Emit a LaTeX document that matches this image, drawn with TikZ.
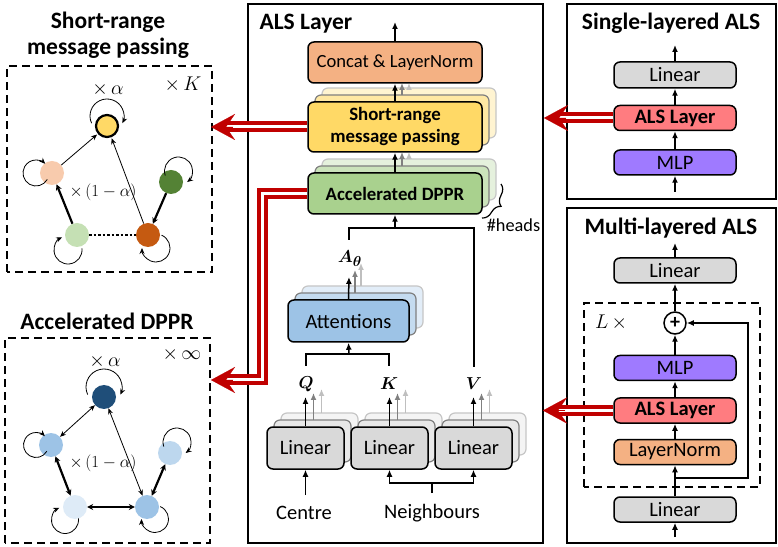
\documentclass[tikz,border=0pt]{standalone}
\usepackage{amsmath}
\usepackage{fontspec}
\setmainfont{Carlito}
\usetikzlibrary{arrows.meta,decorations.pathreplacing,calc}
\definecolor{cconcat}{HTML}{F4B183}
\definecolor{csr}{HTML}{FFD966}
\definecolor{cdppr}{HTML}{A9D18E}
\definecolor{catt}{HTML}{9DC3E6}
\definecolor{clin}{HTML}{D9D9D9}
\definecolor{cals}{HTML}{FF7C80}
\definecolor{cmlp}{HTML}{9F7AFF}
\definecolor{credarr}{HTML}{C00000}
\definecolor{cpeach}{HTML}{F8CBAD}
\definecolor{cdgreen}{HTML}{548235}
\definecolor{clgreen}{HTML}{C5E0B4}
\definecolor{corange}{HTML}{C55A11}
\definecolor{cyel}{HTML}{FFD966}
\definecolor{cdblue}{HTML}{1F4E79}
\definecolor{cblue}{HTML}{9DC3E6}
\definecolor{clblue}{HTML}{BDD7EE}
\definecolor{cvlblue}{HTML}{DEEBF7}
\newcommand\fs[2]{\fontsize{#1}{#2}\selectfont}
\tikzset{
  boxshape/.style={rectangle, rounded corners=6pt, line width=1.5pt, draw=black, inner sep=0pt, align=center},
  flow/.style={line width=1.5pt, -{Latex[length=7pt,width=6pt]}},
  gflowA/.style={flow, draw=gray},
  gflowB/.style={flow, draw=gray!50},
  plainline/.style={line width=1.5pt},
  redline/.style={draw=credarr, line width=4pt, double=white, double distance=3pt, shorten >=14pt},
  redhead/.style={draw=credarr, fill=credarr, line width=0.1pt, -{Stealth[length=24pt,width=26pt,inset=9pt]}},
  dashbox/.style={draw, line width=1.5pt, dash pattern=on 8pt off 5pt},
  panel/.style={draw, line width=1.5pt},
  gn/.style={circle, minimum size=24pt, inner sep=0pt},
  mathlbl/.style={font=\fs{17.28}{18}, scale=1.15},
  thinarr/.style={line width=0.8pt, -{Stealth[length=6pt,width=5pt]}},
  thinboth/.style={line width=0.8pt, {Stealth[length=6pt,width=5pt]}-{Stealth[length=6pt,width=5pt]}},
  thickarr/.style={line width=2.2pt, -{Stealth[length=6pt,width=6pt]}},
  thickboth/.style={line width=2.2pt, {Stealth[length=6pt,width=6pt]}-{Stealth[length=6pt,width=6pt]}},
  loopst/.style={line width=0.8pt, -{Stealth[length=6pt,width=5pt]}},
}
% name, cx, cy, w, h, colour, font, text
\newcommand\shbox[8]{%
  \node[boxshape, fill=#6!30!white, draw=gray!45, line width=1.2pt, minimum width=#4pt, minimum height=#5pt] at (#2+14,#3+14) {};
  \node[boxshape, fill=#6!60!white, draw=gray, line width=1.2pt, minimum width=#4pt, minimum height=#5pt] at (#2+7,#3+7) {};
  \node[boxshape, fill=#6, minimum width=#4pt, minimum height=#5pt, font=#7] (#1) at (#2,#3) {#8};
}
% node, dx, dy, radius, start, end
\newcommand\selfloop[6]{%
  \draw[loopst] ($(#1)+(#2,#3)+(#5:#4)$) arc[start angle=#5, end angle=#6, radius=#4];
}
\begin{document}
\begin{tikzpicture}[x=1pt,y=1pt]
\useasboundingbox (0,0) rectangle (778,546);
\fill[white] (0,0) rectangle (778,546);

% ---------------- left top: short-range message passing
\node[font=\fs{23.5}{26}\bfseries, align=center] (t1) at (108,511) {Short-range\\message passing};
\draw[dashbox] (7,274) rectangle (212,480);
\node[mathlbl] (ga) at (108,456) {$\times\,\alpha$};
\node[mathlbl] (gk) at (183,461) {$\times\,K$};
\node[mathlbl, scale=0.85] (g1a) at (103,354) {$\times\,(1-\alpha)$};
\node[gn, fill=cyel, draw=black, line width=2.2pt, minimum size=22pt] (g1) at (107,420) {};
\node[gn, fill=cpeach] (g2) at (52,373) {};
\node[gn, fill=cdgreen] (g3) at (171,364) {};
\node[gn, fill=clgreen] (g4) at (77,311) {};
\node[gn, fill=corange] (g5) at (148,311) {};
\draw[thinarr, shorten >=1pt] (g2) -- (g1);
\draw[thinarr, shorten >=1pt] (g5) -- (g1);
\draw[thickarr] (g4) -- (g2);
\draw[thickarr] (g3) -- (g5);
\draw[line width=2.5pt, dash pattern=on 2.5pt off 2pt] (g4) -- (g5);
\selfloop{g1}{0}{10}{17}{205}{-25}
\selfloop{g2}{-16}{0}{13}{-30}{-315}
\selfloop{g3}{7.5}{11}{14}{199}{-52}
\selfloop{g4}{-9}{-15}{14}{7}{-245}
\selfloop{g5}{8}{-13}{14}{67}{-180}

% ---------------- left bottom: accelerated DPPR
\node[font=\fs{23.5}{26}\bfseries] (t2) at (107,225) {Accelerated DPPR};
\draw[dashbox] (5,3) rectangle (210,208);
\node[mathlbl] (da) at (105,184) {$\times\,\alpha$};
\node[mathlbl] (dinf) at (182,191) {$\times\,\infty$};
\node[mathlbl, scale=0.85] (d1a) at (103,83) {$\times\,(1-\alpha)$};
\node[gn, fill=cdblue] (d1) at (104,149) {};
\node[gn, fill=cblue] (d2) at (51,101) {};
\node[gn, fill=clblue] (d3) at (170,93) {};
\node[gn, fill=cvlblue] (d4) at (75,39) {};
\node[gn, fill=cblue] (d5) at (147,39) {};
\draw[thinboth] (d1) -- (d2);
\draw[thinboth] (d1) -- (d5);
\draw[thickboth] (d2) -- (d4);
\draw[thickboth] (d4) -- (d5);
\draw[thickboth] (d3) -- (d5);
\selfloop{d1}{0}{10}{18}{205}{-25}
\selfloop{d2}{-15}{0}{12.5}{-30}{-315}
\selfloop{d3}{7}{11}{14}{199}{-52}
\selfloop{d4}{-10}{-13}{13.5}{7}{-245}
\selfloop{d5}{8}{-12}{13.5}{67}{-180}

% ---------------- middle: ALS layer
\draw[panel] (248,3) rectangle (543,542);
\node[font=\fs{23.5}{26}\bfseries, anchor=west] (t3) at (256,522) {ALS Layer};
\node[boxshape, fill=cconcat, minimum width=174pt, minimum height=41pt, font=\fs{18.6}{20}] (concat) at (395,483.5) {Concat \& LayerNorm};
\shbox{sr}{395}{419}{174}{50}{csr}{\fs{18.8}{22}\bfseries}{Short-range\\message passing}
\shbox{dppr}{395}{352.5}{174}{41}{cdppr}{\fs{18.8}{20}\bfseries}{Accelerated DPPR}
\shbox{att}{348.5}{225}{121}{42}{catt}{\fs{20.5}{22}}{Attentions}
\shbox{lq}{305.5}{98}{77}{42}{clin}{\fs{20.5}{22}}{Linear}
\shbox{lk}{389.5}{98}{77}{42}{clin}{\fs{20.5}{22}}{Linear}
\shbox{lv}{473.5}{98}{77}{42}{clin}{\fs{20.5}{22}}{Linear}

\coordinate (outtop) at (395,524);
\draw[flow] (concat.north) -- (outtop);
% sr -> concat
\draw[gflowB] (409,458) -- (409,463);
\draw[gflowA] (402,451) -- (402,463);
\draw[flow] (sr.north) -- (concat.south);
% dppr -> sr
\draw[gflowB] (409,387) -- (409,394);
\draw[gflowA] (402,380) -- (402,394);
\draw[flow] (dppr.north) -- (sr.south);
% brace
\draw[line width=1.2pt, decorate, decoration={brace, amplitude=11pt}] (501,362) -- (482,328);
\node[font=\fs{18.3}{20}] (heads) at (513.5,321) {\#heads};

% A theta and V merge
\node[font=\fs{19}{20}] (ath) at (350,287) {$\boldsymbol{A}_{\boldsymbol{\theta}}$};
\node[font=\fs{19}{20}] (qq) at (306,162) {$\boldsymbol{Q}$};
\node[font=\fs{19}{20}] (kk) at (389,162) {$\boldsymbol{K}$};
\node[font=\fs{19}{20}] (vv) at (474,162) {$\boldsymbol{V}$};
\coordinate (mergeL) at (349,318);
\coordinate (mergeR) at (474,318);
\coordinate (mergeC) at (395,318);
\draw[plainline] (349,306) -- (mergeL) -- (mergeR) -- (474,179);
\draw[flow] (mergeC) -- (dppr.south);
% attention -> A theta
\draw[gflowB] (361,260) -- (361,283);
\draw[gflowA] (355,253) -- (355,276);
\draw[flow] (att.north) -- (349,269);
% Q,K -> attention
\draw[plainline] (306,180) -- (306,192) -- (389,192) -- (389,180);
\draw[flow] (349,192) -- (att.south);
% linear -> Q K V
\foreach \cx/\nm in {305.5/lq, 389.5/lk, 473.5/lv}{
  \draw[gflowB] (\cx+16,133) -- (\cx+16,157);
  \draw[gflowA] (\cx+8,126) -- (\cx+8,153);
  \draw[flow] (\nm.north) -- (\cx,149);
}
% inputs
\node[font=\fs{20.5}{22}] (centre) at (304,33) {Centre};
\node[font=\fs{20.5}{22}] (neigh) at (432,33) {Neighbours};
\draw[flow] (305.5,51) -- (lq.south);
\draw[plainline] (432,53) -- (432,63);
\draw[flow] (389.5,63) -- (lk.south);
\draw[flow] (473.5,63) -- (lv.south);
\draw[plainline] (388.75,63) -- (474.25,63);

% ---------------- right top: single-layered ALS
\draw[panel] (567,347) rectangle (776,542);
\node[font=\fs{23.5}{26}\bfseries] (t4) at (671,523) {Single-layered ALS};
\node[boxshape, fill=clin, minimum width=122pt, minimum height=26pt, font=\fs{20.5}{22}] (slin) at (675,471) {Linear};
\node[boxshape, fill=cals, minimum width=122pt, minimum height=25pt, font=\fs{20.5}{22}\bfseries] (sals) at (675,428) {ALS Layer};
\node[boxshape, fill=cmlp, minimum width=122pt, minimum height=25pt, font=\fs{20.5}{22}] (smlp) at (675,383.5) {MLP};
\coordinate (sout) at (675,501);
\coordinate (sin) at (675,354);
\draw[flow] (slin.north) -- (sout);
\draw[flow] (sals.north) -- (slin.south);
\draw[flow] (smlp.north) -- (sals.south);
\draw[flow] (sin) -- (smlp.south);

% ---------------- right bottom: multi-layered ALS
\draw[panel] (567,3) rectangle (776,338);
\node[font=\fs{23.5}{26}\bfseries] (t5) at (671,318) {Multi-layered ALS};
\draw[dashbox] (584,59) rectangle (760,243);
\node[mathlbl] (lx) at (611,223) {$L\,\times$};
\node[boxshape, fill=clin, minimum width=122pt, minimum height=25pt, font=\fs{20.5}{22}] (mlint) at (675,275.5) {Linear};
\node[circle, draw, line width=1.5pt, fill=white, minimum size=22pt, inner sep=0pt, font=\fs{20}{20}\bfseries] (plus) at (675,223) {+};
\node[boxshape, fill=cmlp, minimum width=122pt, minimum height=25pt, font=\fs{20.5}{22}] (mmlp) at (675,178) {MLP};
\node[boxshape, fill=cals, minimum width=122pt, minimum height=25pt, font=\fs{20.5}{22}\bfseries] (mals) at (675,135.5) {ALS Layer};
\node[boxshape, fill=cconcat, minimum width=122pt, minimum height=25pt, font=\fs{20.5}{22}] (mln) at (675,94) {LayerNorm};
\node[boxshape, fill=clin, minimum width=122pt, minimum height=25pt, font=\fs{20.5}{22}] (mlinb) at (675,36.5) {Linear};
\coordinate (mout) at (675,303);
\coordinate (min) at (675,9);
\coordinate (skipA) at (675,68);
\coordinate (skipB) at (748,68);
\coordinate (skipC) at (748,223);
\draw[flow] (mlint.north) -- (mout);
\draw[flow] (plus.north) -- (mlint.south);
\draw[flow] (mmlp.north) -- (plus.south);
\draw[flow] (mals.north) -- (mmlp.south);
\draw[flow] (mln.north) -- (mals.south);
\draw[flow] (mlinb.north) -- (mln.south);
\draw[flow] (min) -- (mlinb.south);
\draw[flow] (skipA) -- (skipB) -- (skipC) -- (plus.east);

% ---------------- red double arrows
\coordinate (srtip) at (211,419);
\coordinate (dbend) at (262,166);
\coordinate (dtip) at (211,166);
\coordinate (stip) at (544,428);
\coordinate (mtip) at (543,135.5);
\draw[redline] (sr.west) -- (srtip);
\draw[redhead] ($(srtip)+(22,0)$) -- (srtip);
\draw[redline] (dppr.west) -| (dbend) -- (dtip);
\draw[redhead] ($(dtip)+(22,0)$) -- (dtip);
\draw[redline] (sals.west) -- (stip);
\draw[redhead] ($(stip)+(22,0)$) -- (stip);
\draw[redline] (mals.west) -- (mtip);
\draw[redhead] ($(mtip)+(22,0)$) -- (mtip);
\end{tikzpicture}
\end{document}
